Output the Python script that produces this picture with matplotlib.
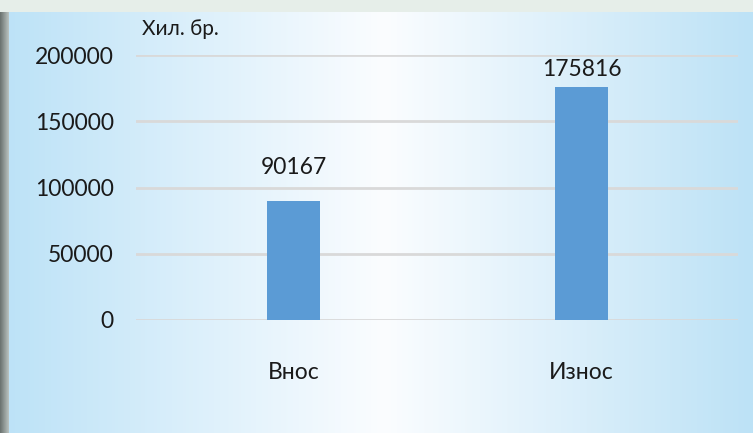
import numpy as np
import matplotlib.pyplot as plt
from matplotlib.colors import LinearSegmentedColormap

categorias = ['Внос', 'Износ']
valores = [90167, 175816]
ticks_y = [0, 50000, 100000, 150000, 200000]

plt.rcParams['font.family'] = ['Lato', 'DejaVu Sans']

fig = plt.figure(figsize=(7.53, 4.33), dpi=100)

# fondo degradado
fondo = fig.add_axes([0, 0, 1, 1], zorder=-10)
cmap = LinearSegmentedColormap.from_list(
    'fondo', [(0, '#bce2f7'), (0.51, '#fbfdff'), (1, '#bde2f6')])
grad = np.linspace(0, 1, 400).reshape(1, -1)
fondo.imshow(grad, aspect='auto', cmap=cmap, extent=[0, 1, 0, 1])
fondo.add_patch(plt.Rectangle((0, 1 - 12 / 433), 1, 12 / 433,
                              color='#e6eee9', lw=0))
sombra = LinearSegmentedColormap.from_list('sombra', ['#6b7370', '#b9c2bf'])
fondo.imshow(np.linspace(0, 1, 20).reshape(1, -1), aspect='auto', cmap=sombra,
             extent=[0, 9 / 753, 0, 1 - 12 / 433])
fondo.set_xlim(0, 1)
fondo.set_ylim(0, 1)
fondo.axis('off')

ax = fig.add_axes([136 / 753, 1 - 320 / 433, 602 / 753, 265 / 433])
ax.patch.set_alpha(0)
x = np.arange(len(categorias))
barras = ax.bar(x, valores, width=0.184, color='#5b9bd5', zorder=3)
desplaz = [16, 5]  # separación de la etiqueta en puntos
for b, v, d in zip(barras, valores, desplaz):
    ax.annotate(str(v), (b.get_x() + b.get_width() / 2, v),
                xytext=(0, d), textcoords='offset points',
                ha='center', va='bottom', fontsize=16.5, color='#1a1a1a')

ax.set_xlim(-0.547, 1.543)
ax.set_ylim(0, 200000)
ax.set_yticks(ticks_y)
ax.set_yticklabels([str(t) for t in ticks_y], fontsize=16.5, color='#1a1a1a')
ax.set_xticks(x)
ax.set_xticklabels(categorias, fontsize=16.5, color='#1a1a1a')
ax.tick_params(length=0, axis='y', pad=16)
ax.tick_params(length=0, axis='x', pad=30)
ax.grid(axis='y', color='#d9d9d9', lw=2, zorder=0)
for s in ax.spines.values():
    s.set_visible(False)

fig.text(142 / 753, 1 - 29 / 433, 'Хил. бр.', fontsize=15, color='#1a1a1a',
         va='center', ha='left')

fig.savefig('out.png', dpi=100)
